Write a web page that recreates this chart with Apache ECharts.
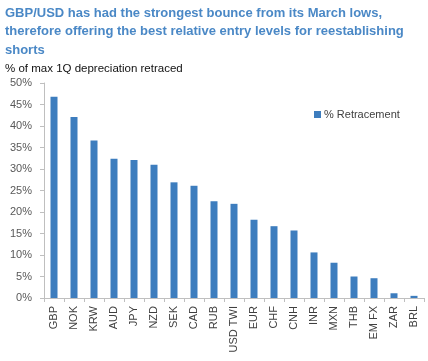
<!DOCTYPE html>
<html><head><meta charset="utf-8">
<script src="https://cdn.jsdelivr.net/npm/echarts@6/dist/echarts.min.js"></script>
<style>html,body{margin:0;padding:0;background:#fff}#c{width:428px;height:361px}</style>
</head><body><div id="c"></div>
<script>
const categories = ['GBP','NOK','KRW','AUD','JPY','NZD','SEK','CAD','RUB','USD TWI','EUR','CHF','CNH','INR','MXN','THB','EM FX','ZAR','BRL'];
const retracement = [46.8,42.1,36.6,32.4,32.1,31.0,26.9,26.1,22.5,21.9,18.2,16.7,15.7,10.6,8.2,5.0,4.6,1.1,0.5];
const yTicks = [0,5,10,15,20,25,30,35,40,45,50];
const titleText = 'GBP/USD has had the strongest bounce from its March lows,\ntherefore offering the best relative entry levels for reestablishing\nshorts';
const subtitleText = '% of max 1Q depreciation retraced';

const chart = echarts.init(document.getElementById('c'), null, {renderer:'canvas'});
chart.setOption({
  animation:false,
  backgroundColor:'#fff',
  title:[{
    text:titleText, left:5, top:4, padding:0,
    textStyle:{fontFamily:'Liberation Sans, Arial', fontSize:13, fontWeight:'bold', color:'#4A88C6', lineHeight:18.5}
  },{
    text:subtitleText, left:5, top:62, padding:0,
    textStyle:{fontFamily:'Liberation Sans, Arial', fontSize:11.5, fontWeight:'normal', color:'#111', lineHeight:14}
  }],
  legend:{
    data:['% Retracement'], left:309, top:104, itemWidth:7, itemHeight:7, itemGap:4,
    icon:'rect',
    textStyle:{fontFamily:'Liberation Sans, Arial', fontSize:11, color:'#404040', padding:[0,0,0,-2]}
  },
  grid:{left:44, right:4, top:83, bottom:63, containLabel:false},
  xAxis:{
    type:'category', data:categories,
    axisLine:{lineStyle:{color:'#BFBFBF'}},
    axisTick:{show:true, alignWithLabel:false, length:4, lineStyle:{color:'#BFBFBF'}},
    axisLabel:{rotate:90, interval:0, fontFamily:'Liberation Sans, Arial', fontSize:11, color:'#404040', margin:8}
  },
  yAxis:{
    type:'value', min:0, max:50, interval:5,
    axisLine:{show:true, lineStyle:{color:'#BFBFBF'}},
    axisTick:{show:true, length:4, lineStyle:{color:'#BFBFBF'}},
    splitLine:{show:false},
    axisLabel:{formatter:v=>v+'%', fontFamily:'Liberation Sans, Arial', fontSize:11, color:'#595959', margin:12}
  },
  series:[{
    name:'% Retracement', type:'bar', data:retracement, barWidth:7,
    itemStyle:{color:'#3D7DBE'}
  }]
});
</script></body></html>
